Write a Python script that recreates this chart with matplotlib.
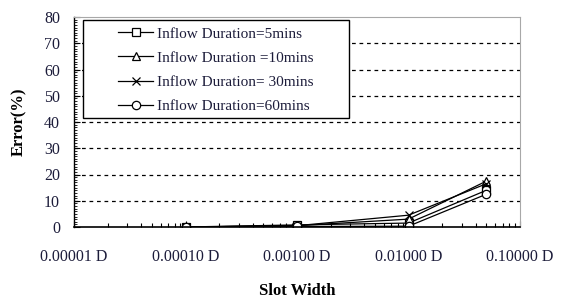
import numpy as np
import matplotlib
matplotlib.use('Agg')
import matplotlib.pyplot as plt
from matplotlib.patches import Rectangle
from matplotlib.ticker import LogLocator, MultipleLocator, FixedLocator

plt.rcParams['font.family'] = ['Liberation Serif', 'DejaVu Serif']

# data
slot_width = [0.0001, 0.001, 0.01, 0.05]
err_5 = [0.0, 0.8, 1.5, 14.0]
err_10 = [0.0, 0.5, 3.0, 17.5]
err_30 = [0.0, 0.5, 4.5, 16.5]
err_60 = [0.0, 0.2, 0.3, 12.5]
series = [
    ("Inflow Duration=5mins", err_5, "s"),
    ("Inflow Duration =10mins", err_10, "^"),
    ("Inflow Duration= 30mins", err_30, "x"),
    ("Inflow Duration=60mins", err_60, "o"),
]
xtick_vals = [1e-5, 1e-4, 1e-3, 1e-2, 1e-1]
xtick_labels = ["0.00001 D", "0.00010 D", "0.00100 D", "0.01000 D", "0.10000 D"]

txt = "#1c1c3a"
fs = 11.5

fig = plt.figure(figsize=(5.62, 3.0), dpi=100)
ax = fig.add_axes([74/562, 1 - 227/300, 446/562, 210/300])

for name, vals, mk in series:
    ax.plot(slot_width, vals, color="black", lw=0.9, marker=mk, ms=6,
            mfc="white", mec="black", mew=0.9, label=name)

ax.set_xscale("log")
ax.set_xlim(1e-5, 1e-1)
ax.set_ylim(0, 80)
ax.xaxis.set_major_locator(FixedLocator(xtick_vals))
ax.set_xticklabels(xtick_labels)
ax.xaxis.set_minor_locator(LogLocator(base=10, subs=np.arange(2, 10)))
ax.xaxis.set_minor_formatter(plt.NullFormatter())
ax.yaxis.set_major_locator(MultipleLocator(10))
ax.yaxis.set_minor_locator(MultipleLocator(1))

ax.tick_params(axis="x", which="major", direction="in", length=4, width=0.8,
               pad=16, labelsize=fs, labelcolor=txt, top=False)
ax.tick_params(axis="x", which="minor", direction="in", length=3, width=0.8, top=False)
ax.tick_params(axis="y", which="major", direction="in", length=4, width=0.8,
               pad=10, labelsize=fs, labelcolor=txt, right=False)
ax.tick_params(axis="y", which="minor", direction="in", length=2.5, width=0.6, right=False)

for yv in range(10, 80, 10):
    ax.axhline(yv, color="black", lw=0.9, ls=(0, (3, 3)), zorder=0)

ax.spines["top"].set_color("#a8a8a8")
ax.spines["right"].set_color("#a8a8a8")
ax.spines["left"].set_linewidth(1.0)
ax.spines["bottom"].set_linewidth(1.2)

ax.set_ylabel("Error(%)", fontsize=12, fontweight="bold", labelpad=12)
ax.set_xlabel("Slot Width", fontsize=12, fontweight="bold", labelpad=13)

# legend box: frame drawn separately so the handles can sit inset like the original
ax.add_patch(Rectangle((9/446, 109/210), 266/446, 98/210, transform=ax.transAxes,
                       facecolor="white", edgecolor="black", lw=1.0, zorder=4))
leg = ax.legend(loc="upper left", bbox_to_anchor=(44/446, 200/210), borderaxespad=0,
                borderpad=0, fontsize=11, frameon=False, handlelength=2.3,
                labelspacing=0.68, handletextpad=0.25)
leg.set_zorder(5)
for t in leg.get_texts():
    t.set_color(txt)

fig.savefig("out.png", dpi=100)
